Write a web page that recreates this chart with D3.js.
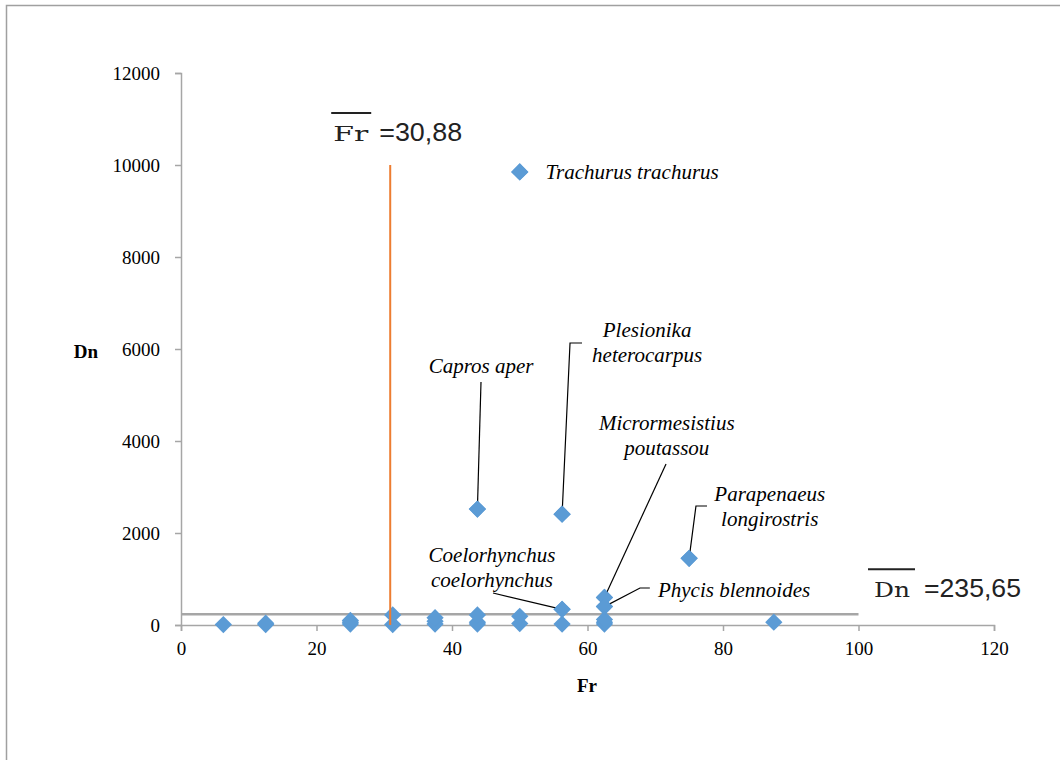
<!DOCTYPE html>
<html><head><meta charset="utf-8">
<script src="https://cdn.jsdelivr.net/npm/d3@7"></script>
<style>
html,body{margin:0;padding:0;background:#fff;}
svg{display:block;}
</style></head>
<body>
<svg id="chart" width="1060" height="760"></svg>
<script>
// ---- data ----
const frequency = [6.25, 12.5, 12.5, 25, 25, 25, 31.25, 31.25, 37.5, 37.5, 37.5,
  43.75, 43.75, 43.75, 43.75, 50, 50, 50, 56.25, 56.25, 56.25,
  62.5, 62.5, 62.5, 62.5, 62.5, 75, 87.5];
const density = [10, 10, 40, 20, 60, 100, 10, 220, 20, 80, 160,
  20, 60, 220, 2520, 30, 190, 9850, 20, 340, 2410,
  20, 60, 120, 400, 600, 1450, 60];
const xTicks = [0, 20, 40, 60, 80, 100, 120];
const yTicks = [0, 2000, 4000, 6000, 8000, 10000, 12000];
const meanFr = 30.88;
const meanDn = 235.65;
const meanFrLabel = "=30,88";
const meanDnLabel = "=235,65";
const speciesNames = ["Trachurus trachurus", "Capros aper", "Plesionika heterocarpus",
  "Micrormesistius poutassou", "Parapenaeus longirostris", "Coelorhynchus coelorhynchus", "Phycis blennoides"];
const speciesFr = [50, 43.75, 56.25, 62.5, 75, 56.25, 62.5];
const speciesDn = [9850, 2520, 2410, 600, 1450, 340, 400];

// ---- layout ----
const svg = d3.select("#chart");
const x = d3.scaleLinear().domain([0, 120]).range([181, 994]);
const y = d3.scaleLinear().domain([0, 12000]).range([625, 73]);
const axisColor = "#a6a6a6";
const serif = "'Liberation Serif','Times New Roman',Tinos,Times,'DejaVu Serif',serif";
const sans = "'Liberation Sans',Arimo,Arial,'DejaVu Sans',sans-serif";
const mathSerif = "'DejaVu Serif',serif";

svg.append("rect").attr("x", 6.5).attr("y", 5.5).attr("width", 1200).attr("height", 900)
  .attr("fill", "none").attr("stroke", "#a0a0a0").attr("stroke-width", 1.5);

// axes
const xAxis = svg.append("g").attr("transform", `translate(0,${y(0)})`)
  .call(d3.axisBottom(x).tickValues(xTicks).tickSize(6).tickPadding(6).tickFormat(d3.format("d")));
const yAxis = svg.append("g").attr("transform", `translate(${x(0)},0)`)
  .call(d3.axisLeft(y).tickValues(yTicks).tickSize(6).tickPadding(15).tickFormat(d => String(d)));
[xAxis, yAxis].forEach(g => {
  g.attr("font-family", null).attr("font-size", null);
  g.select(".domain").attr("stroke", axisColor).attr("stroke-width", 1.5);
  g.selectAll(".tick line").attr("stroke", axisColor).attr("stroke-width", 1.5);
  g.selectAll(".tick text").attr("fill", "#000").style("font-family", serif).style("font-size", "19px");
});
xAxis.selectAll(".tick text").attr("dy", "0.95em");

svg.append("text").attr("x", 86).attr("y", 358).attr("text-anchor", "middle")
  .style("font-family", serif).style("font-size", "19px").style("font-weight", "bold").text("Dn");
svg.append("text").attr("x", 587).attr("y", 692).attr("text-anchor", "middle")
  .style("font-family", serif).style("font-size", "19px").style("font-weight", "bold").text("Fr");

// mean line for Dn
svg.append("line").attr("x1", x(0)).attr("x2", x(100)).attr("y1", y(meanDn)).attr("y2", y(meanDn))
  .attr("stroke", "#a6a6a6").attr("stroke-width", 2.5);

// points
const diamond = d3.symbol().type(d3.symbolDiamond2).size(190);
svg.append("g").selectAll("path").data(frequency.map((f, i) => [f, density[i]])).join("path")
  .attr("d", diamond)
  .attr("transform", d => `translate(${x(d[0])},${y(d[1])})`)
  .attr("fill", "#5b9bd5");

// mean line for Fr
svg.append("line").attr("x1", x(meanFr)).attr("x2", x(meanFr)).attr("y1", y(0)).attr("y2", y(10000))
  .attr("stroke", "#ed7d31").attr("stroke-width", 2);

// mean labels
const frX = x(meanFr);
svg.append("line").attr("x1", frX - 59).attr("x2", frX - 19).attr("y1", 113).attr("y2", 113)
  .attr("stroke", "#222").attr("stroke-width", 2);
svg.append("text").attr("x", frX - 57).attr("y", 141).style("font-family", mathSerif)
  .style("font-size", "21px").attr("fill", "#222")
  .attr("textLength", 35).attr("lengthAdjust", "spacingAndGlyphs").text("Fr");
svg.append("text").attr("x", frX - 11).attr("y", 141).style("font-family", sans)
  .style("font-size", "25px").attr("fill", "#222")
  .attr("textLength", 83).attr("lengthAdjust", "spacingAndGlyphs").text(meanFrLabel);

const dnY = y(meanDn);
svg.append("line").attr("x1", 868).attr("x2", 915).attr("y1", dnY - 45).attr("y2", dnY - 45)
  .attr("stroke", "#222").attr("stroke-width", 2);
svg.append("text").attr("x", 874).attr("y", dnY - 17).style("font-family", mathSerif)
  .style("font-size", "21px").attr("fill", "#222")
  .attr("textLength", 36).attr("lengthAdjust", "spacingAndGlyphs").text("Dn");
svg.append("text").attr("x", 924).attr("y", dnY - 17).style("font-family", sans)
  .style("font-size", "25px").attr("fill", "#222")
  .attr("textLength", 97).attr("lengthAdjust", "spacingAndGlyphs").text(meanDnLabel);

// species annotations: label anchor and leader bends in data units
const annotations = [
  {lines: ["Trachurus trachurus"], ax: 53.8, ay: 9696, anchor: "start", leader: []},
  {lines: ["Capros aper"], ax: 44.3, ay: 5478, anchor: "middle", leader: [[44.28, 5283]]},
  {lines: ["Plesionika", "heterocarpus"], ax: 68.8, ay: 6261, anchor: "middle", leader: [[59.19, 6130], [57.42, 6130]]},
  {lines: ["Micrormesistius", "poutassou"], ax: 71.7, ay: 4239, anchor: "middle", leader: [[71.59, 3500]]},
  {lines: ["Parapenaeus", "longirostris"], ax: 86.9, ay: 2696, anchor: "middle", leader: [[77.64, 2587], [76.01, 2587]]},
  {lines: ["Coelorhynchus", "coelorhynchus"], ax: 45.9, ay: 1370, anchor: "middle", leader: [[46.05, 696]]},
  {lines: ["Phycis blennoides"], ax: 70.4, ay: 609, anchor: "start", leader: [[69.2, 804], [67.75, 804]]}
];
const ann = svg.append("g");
annotations.forEach((a, i) => {
  if (a.leader.length) {
    const pts = a.leader.concat([[speciesFr[i], speciesDn[i]]]).map(p => [x(p[0]), y(p[1])]);
    ann.append("path").attr("d", d3.line()(pts)).attr("fill", "none").attr("stroke", "#000").attr("stroke-width", 1.2);
  }
  const t = ann.append("text").attr("x", x(a.ax)).attr("y", y(a.ay)).attr("text-anchor", a.anchor)
    .style("font-family", serif).style("font-size", "21px").style("font-style", "italic");
  a.lines.forEach((l, k) => t.append("tspan").attr("x", x(a.ax)).attr("dy", k ? 25 : 0).text(l));
});
// species points on top of leaders
svg.append("g").selectAll("path").data(speciesFr.map((f, i) => [f, speciesDn[i]])).join("path")
  .attr("d", diamond).attr("transform", d => `translate(${x(d[0])},${y(d[1])})`).attr("fill", "#5b9bd5");
</script>
</body></html>
